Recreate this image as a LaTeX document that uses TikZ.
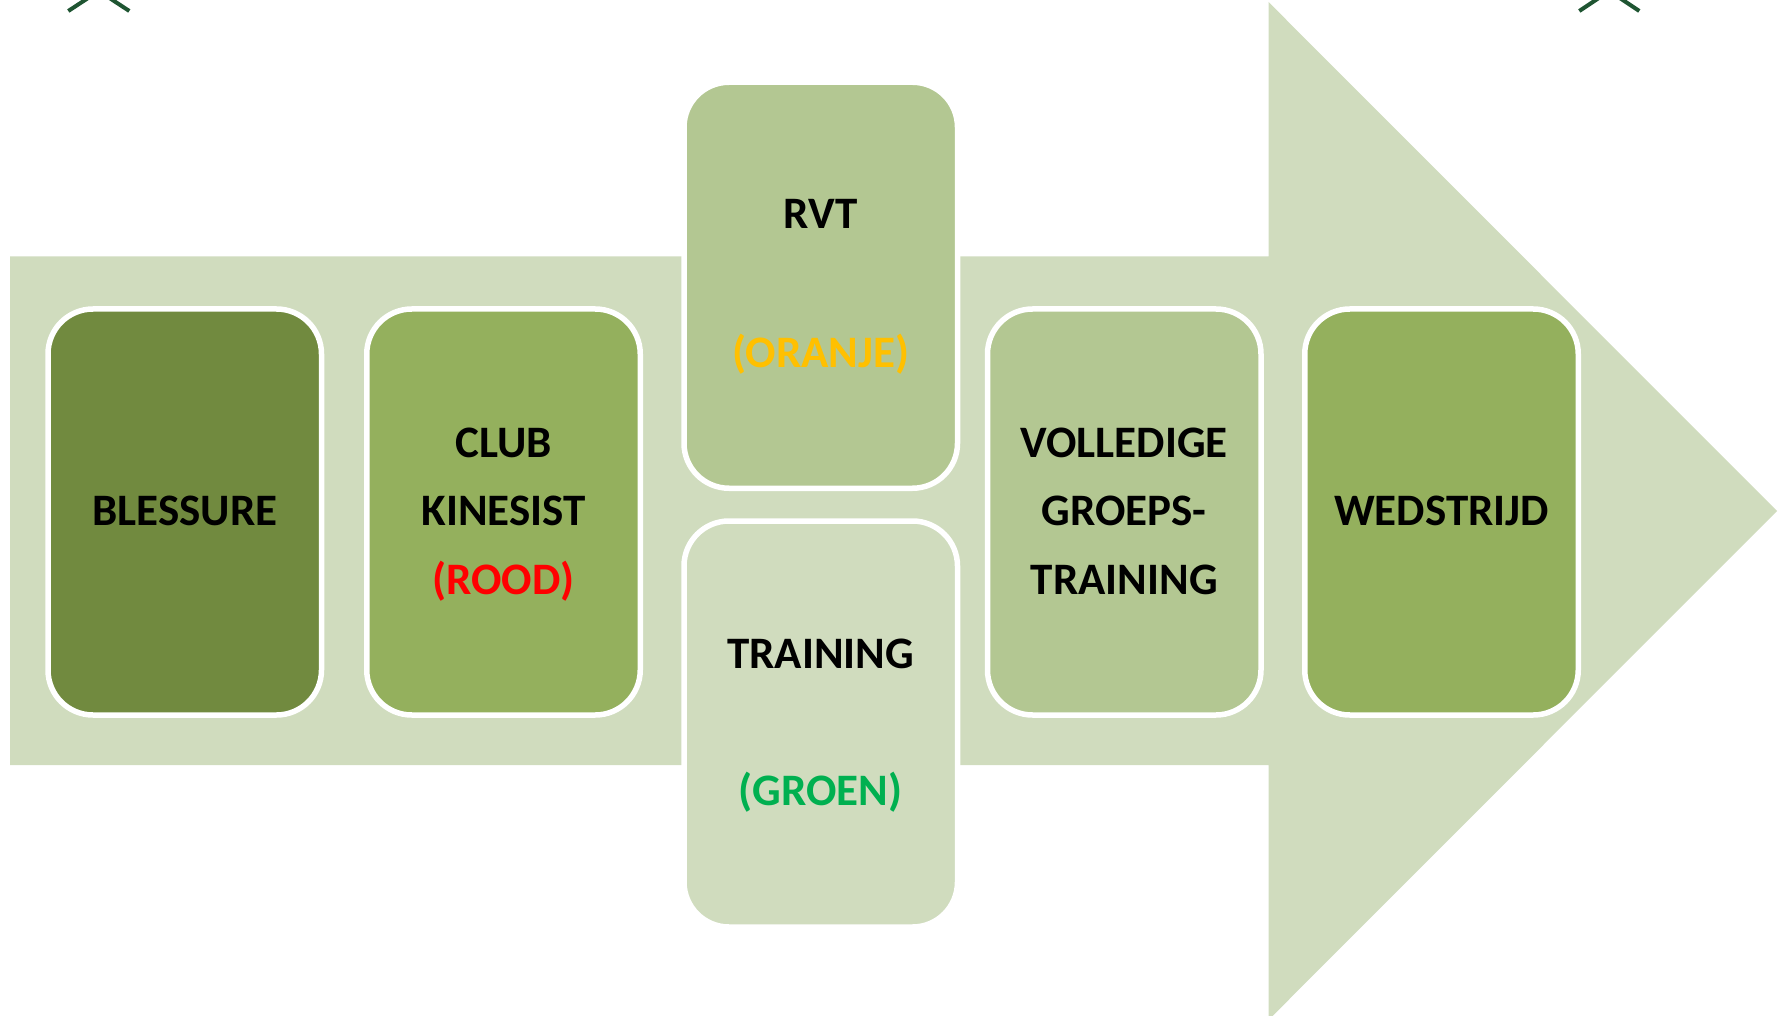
\documentclass[tikz,border=0pt]{standalone}
\usepackage{fontspec}
\setmainfont{Carlito}
\definecolor{bodyg}{HTML}{D0DCBE}
\definecolor{darkg}{HTML}{718A3F}
\definecolor{midg}{HTML}{94B05D}
\definecolor{lightg}{HTML}{B3C792}
\definecolor{paleg}{HTML}{D0DCBE}
\definecolor{chev}{HTML}{1F5532}
\definecolor{rood}{HTML}{FF0000}
\definecolor{oranje}{HTML}{FFC000}
\definecolor{groen}{HTML}{00B050}
\begin{document}
\begin{tikzpicture}[x=1pt,y=-1pt,
  stage/.style={draw=white, line width=5.5pt, rounded corners=45pt,
    minimum width=273.5pt, minimum height=406pt, inner sep=0pt},
  lbl/.style={font=\fontsize{45}{52}\selectfont\bfseries, anchor=base, inner sep=0pt},
  chevline/.style={draw=chev, line width=4pt}]
\useasboundingbox (0,0) rectangle (1781,1016);
\clip (0,0) rectangle (1781,1016);
% big arrow
\fill[bodyg] (10,256.5) -- (1268.5,256.5) -- (1268.5,2) -- (1777,511)
  -- (1268.5,1020) -- (1268.5,765) -- (10,765) -- cycle;
% stage boxes
\node[stage, fill=darkg]  (blessure)  at (184.75,512)   {};
\node[stage, fill=midg]   (club)      at (503.5,512)    {};
\node[stage, fill=lightg] (rvt)       at (820.75,285.25) {};
\node[stage, fill=paleg]  (training)  at (820.75,724)   {};
\node[stage, fill=lightg] (volledige) at (1124.25,512)  {};
\node[stage, fill=midg]   (wedstrijd) at (1441.5,512)  {};
% labels
\node[lbl] (tbl) at (184.75,525.5) {BLESSURE};
\node[lbl] (tcl1) at (503.5,457) {CLUB};
\node[lbl] (tcl2) at (503.5,525.5) {KINESIST};
\node[lbl, text=rood] (tcl3) at (503.5,594) {(ROOD)};
\node[lbl] (trv1) at (820.75,228.8) {RVT};
\node[lbl, text=oranje] (trv2) at (820.75,367) {(ORANJE)};
\node[lbl] (ttr1) at (820.75,668.5) {TRAINING};
\node[lbl, text=groen] (ttr2) at (820.75,805.3) {(GROEN)};
\node[lbl] (tvo1) at (1124.25,457) {VOLLEDIGE};
\node[lbl] (tvo2) at (1124.25,525.5) {GROEPS-};
\node[lbl] (tvo3) at (1124.25,594) {TRAINING};
\node[lbl] (twe) at (1441.5,525.5) {WEDSTRIJD};
% cut-off chevrons at the top
\draw[chevline] (68.3,11) -- (98.8,-9) -- (129.3,11);
\draw[chevline] (1579.3,11) -- (1609.3,-9) -- (1639.3,11);
\end{tikzpicture}
\end{document}
